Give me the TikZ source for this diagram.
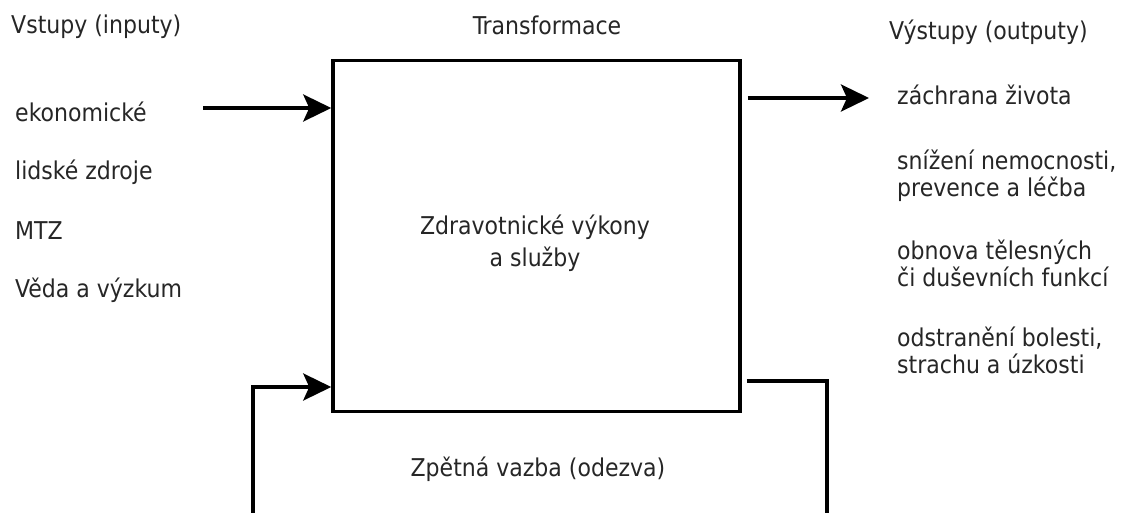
\documentclass[tikz,border=0pt]{standalone}
\usepackage{fontspec}
\setmainfont{DejaVu Sans Condensed}
\usetikzlibrary{arrows.meta}
\begin{document}
\begin{tikzpicture}[x=1pt,y=-1pt,
  lbl/.style={inner sep=0pt, font=\fontsize{24.5}{27}\selectfont, text=black!85},
  wide/.style={font=\fontsize{24.5}{32}\selectfont},
  wire/.style={line width=3.5pt, line cap=butt},
  tip/.style={-{Stealth[length=28pt,width=27pt,inset=6pt]}}]
\useasboundingbox (0,0) rectangle (1123,513);
% central transformation block
\node[draw, line width=3.5pt, minimum width=407pt, minimum height=351pt, inner sep=0pt] (box) at (536.5,236) {};
\node[lbl, wide, align=center] (proc) at (535,243) {Zdravotnické výkony\\a služby};
% headings
\node[lbl, anchor=west] (inh) at (11,27) {Vstupy (inputy)};
\node[lbl] (trh) at (547,25) {Transformace};
\node[lbl, anchor=west] (outh) at (889,32) {Výstupy (outputy)};
% inputs
\node[lbl, anchor=west] (i1) at (15,112) {ekonomické};
\node[lbl, anchor=west] (i2) at (15,172) {lidské zdroje};
\node[lbl, anchor=west] (i3) at (15,231) {MTZ};
\node[lbl, anchor=west] (i4) at (15,290) {Věda a výzkum};
% outputs
\node[lbl, anchor=west] (o1) at (897,95) {záchrana života};
\node[lbl, anchor=west, align=left] (o2) at (897,176) {snížení nemocnosti,\\prevence a léčba};
\node[lbl, anchor=west, align=left] (o3) at (897,263) {obnova tělesných\\či duševních funkcí};
\node[lbl, anchor=west, align=left] (o4) at (897,350) {odstranění bolesti,\\strachu a úzkosti};
% feedback label
\node[lbl] (fb) at (538,469) {Zpětná vazba (odezva)};
% connectors
\coordinate (inS) at (203,108);
\coordinate (outE) at (869,98);
\coordinate (fbL) at (253,513);
\coordinate (fbR) at (827,513);
\draw[wire, tip] (inS) -- (box.west |- inS);
\draw[wire, tip] (box.east |- outE) ++(6,0) -- (outE);
\draw[wire, tip] (fbL) -- (fbL |- 0,387) -- (box.west |- 0,387);
\draw[wire] (box.east |- 0,381) ++(5,0) -- (fbR |- 0,381) -- (fbR);
\end{tikzpicture}
\end{document}
